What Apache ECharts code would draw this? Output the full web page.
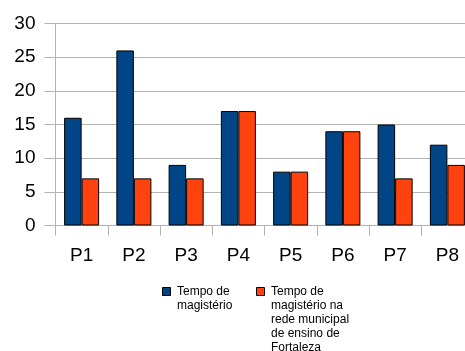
<!DOCTYPE html>
<html>
<head>
<meta charset="utf-8">
<script src="https://cdn.jsdelivr.net/npm/echarts@6/dist/echarts.min.js"></script>
<style>
  html, body { margin: 0; padding: 0; background: #fff; overflow: hidden; }
  /* plot runs past the right edge of the window, so the last bar sits flush with it */
  #chart { width: 474px; height: 351px; }
</style>
</head>
<body>
<div id="chart"></div>
<script>
// Teachers' years of teaching, total vs. in the Fortaleza municipal network
const categories = ['P1', 'P2', 'P3', 'P4', 'P5', 'P6', 'P7', 'P8'];
const tempoMagisterio = [16, 26, 9, 17, 8, 14, 15, 12];
const tempoRedeMunicipal = [7, 7, 7, 17, 8, 14, 7, 9];
const seriesNames = ['Tempo de\nmagistério', 'Tempo de\nmagistério na\nrede municipal\nde ensino de\nFortaleza'];
const colors = ['#004586', '#ff420e'];

const chart = echarts.init(document.getElementById('chart'));
const font = 'Liberation Sans, Arial, sans-serif';

// Legend drawn as swatch + multi-line caption, first line level with the swatch
const legendX = [162, 256];
const legendGraphics = [];
seriesNames.forEach((name, i) => {
  legendGraphics.push({
    type: 'rect', left: legendX[i], top: 287,
    shape: { width: 8, height: 8 },
    style: { fill: colors[i], stroke: '#000', lineWidth: 1 }
  });
  legendGraphics.push({
    type: 'text', left: legendX[i] + 15, top: 284.5,
    style: { text: name, font: '12px ' + font, fill: '#000', lineHeight: 14 }
  });
});

chart.setOption({
  animation: false,
  color: colors,
  grid: { left: 55.5, top: 23.5, right: 0.5, bottom: 125.5, containLabel: false },
  graphic: legendGraphics,
  xAxis: {
    type: 'category',
    data: categories,
    axisLine: { lineStyle: { color: '#b3b3b3', width: 1 } },
    axisTick: { show: true, length: 10, lineStyle: { color: '#b3b3b3' } },
    axisLabel: { fontFamily: font, fontSize: 19, color: '#000', margin: 21 }
  },
  yAxis: {
    type: 'value',
    min: 0, max: 30, interval: 5,
    axisLine: { show: true, lineStyle: { color: '#b3b3b3', width: 1 } },
    axisTick: { show: true, length: 11, lineStyle: { color: '#b3b3b3' } },
    axisLabel: { fontFamily: font, fontSize: 19, color: '#000', margin: 20 },
    splitLine: { lineStyle: { color: '#b3b3b3', width: 1 } }
  },
  series: [
    {
      name: seriesNames[0], type: 'bar', data: tempoMagisterio,
      barGap: '0%', barCategoryGap: '33%',
      itemStyle: { borderColor: '#000', borderWidth: 1 },
      emphasis: { disabled: true }
    },
    {
      name: seriesNames[1], type: 'bar', data: tempoRedeMunicipal,
      barGap: '0%', barCategoryGap: '33%',
      itemStyle: { borderColor: '#000', borderWidth: 1 },
      emphasis: { disabled: true }
    }
  ]
});
</script>
</body>
</html>
